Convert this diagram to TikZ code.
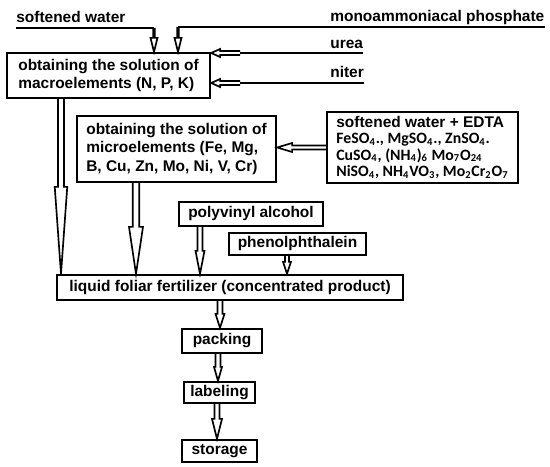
\documentclass[tikz,border=0pt]{standalone}
\usepackage{fontspec}
\setmainfont{Liberation Sans}
\newfontfamily\calfont{Carlito}
\usepackage{tikz}
\usetikzlibrary{calc}
\tikzset{
  box/.style={draw,line width=1.3pt,inner sep=0pt,align=center,
    font=\bfseries\fontsize{8.8}{10.8}\selectfont},
  box-chem/.style={box,align=left,font=\calfont\bfseries\fontsize{9}{9.2}\selectfont},
  lbl/.style={inner sep=0pt,anchor=base west,
    font=\bfseries\fontsize{8.8}{10.8}\selectfont},
  feed/.style={line width=1.3pt},
  % hollow arrows: double shaft + open head
  hollow/.style={line width=0.95pt,line join=miter},
}
% #1 from, #2 tip, #3 head length, #4 shaft half width, #5 head half width (mm)
\newcommand{\hollowdn}[5]{%
  \draw[hollow] let \p1=(#1), \p2=(#2) in
    (\x1-#4mm,\y1) -- (\x1-#4mm,\y2+#3mm) -- (\x1-#5mm,\y2+#3mm) -- (\x1,\y2)
    -- (\x1+#5mm,\y2+#3mm) -- (\x1+#4mm,\y2+#3mm) -- (\x1+#4mm,\y1);
}
\newcommand{\hollowlt}[5]{%
  \draw[hollow] let \p1=(#1), \p2=(#2) in
    (\x1,\y1+#4mm) -- (\x2+#3mm,\y1+#4mm) -- (\x2+#3mm,\y1+#5mm) -- (\x2,\y1)
    -- (\x2+#3mm,\y1-#5mm) -- (\x2+#3mm,\y1-#4mm) -- (\x1,\y1-#4mm);
}

\begin{document}
\begin{tikzpicture}[x=0.2mm,y=-0.2mm]
  \useasboundingbox (0,0) rectangle (550,467);

  \node[lbl] (sw) at (16,23) {softened water};
  \node[lbl] (ma) at (330,22) {monoammoniacal phosphate};
  \node[lbl] (ur) at (330,49) {urea};
  \node[lbl] (ni) at (330,78) {niter};

  \node[box,align=left,minimum width=40.6mm,minimum height=9mm] (macro) at (108.5,75.5)
    {obtaining the solution of\\macroelements (N, P, K)};
  \node[box,align=left,minimum width=39.8mm,minimum height=13.2mm] (micro) at (176.5,149)
    {obtaining the solution of\\microelements (Fe, Mg,\\B, Cu, Zn, Mo, Ni, V, Cr)};
  \node[box-chem,minimum width=38.2mm,minimum height=14.2mm] (edta) at (422.5,147.5)
    {{\rmfamily\fontsize{8.8}{9.2}\selectfont softened water + EDTA}\\
     FeSO\textsubscript{4}., MgSO\textsubscript{4}., ZnSO\textsubscript{4}.\\
     CuSO\textsubscript{4}, (NH\textsubscript{4})\textsubscript{6} Mo\textsubscript{7}O\textsubscript{24}\\
     NiSO\textsubscript{4}, NH\textsubscript{4}VO\textsubscript{3}, Mo\textsubscript{2}Cr\textsubscript{2}O\textsubscript{7}};
  \node[box,minimum width=28.8mm,minimum height=4.8mm] (pva) at (251,214) {polyvinyl alcohol};
  \node[box,minimum width=27.4mm,minimum height=4.4mm] (phen) at (297.5,244) {phenolphthalein};
  \node[box,minimum width=69.2mm,minimum height=5mm] (fert) at (230,287.5)
    {liquid foliar fertilizer (concentrated product)};
  \node[box,minimum width=16mm,minimum height=4.8mm] (pack) at (222,341) {packing};
  \node[box,minimum width=14.2mm,minimum height=4.2mm] (lab) at (219.5,392.5) {labeling};
  \node[box,minimum width=15mm,minimum height=4.4mm] (stor) at (219.5,451) {storage};

  \coordinate (swE) at (154,28);
  \coordinate (maE) at (178,27);
  \coordinate (urE) at (240,53);
  \coordinate (niE) at (240,83);
  \coordinate (xMa) at (61,0);
  \coordinate (xMi) at (136,0);
  \coordinate (xPv) at (200,0);
  \coordinate (xPh) at (287,0);
  \coordinate (xFe) at (220,0);
  \coordinate (xPa) at (218,0);
  \coordinate (xLa) at (217,0);

  \draw[feed] (sw.base west |- swE) -- (swE);
  \draw[feed] (ma.base east |- maE) -- (maE);
  \draw[feed] (ur.base east |- urE) -- (urE);
  \draw[feed] (ni.base east |- niE) -- (niE);

  \hollowdn{swE}{macro.north -| swE}{2.8}{0.16}{0.7}
  \hollowdn{maE}{macro.north -| maE}{2.8}{0.16}{0.7}
  \hollowlt{urE}{macro.east |- urE}{1.8}{0.4}{0.8}
  \hollowlt{niE}{macro.east |- niE}{1.8}{0.4}{0.8}
  \hollowlt{edta.west}{micro.east |- edta.west}{3}{0.4}{0.9}

  \hollowdn{macro.south -| xMa}{fert.north -| xMa}{17.4}{0.6}{1.25}
  \hollowdn{micro.south -| xMi}{fert.north -| xMi}{9.4}{0.65}{1.4}
  \hollowdn{pva.south -| xPv}{fert.north -| xPv}{4.6}{0.5}{0.9}
  \hollowdn{phen.south -| xPh}{fert.north -| xPh}{2.4}{0.4}{0.8}
  \hollowdn{fert.south -| xFe}{pack.north -| xFe}{2.8}{0.5}{0.9}
  \hollowdn{pack.south -| xPa}{lab.north -| xPa}{2.8}{0.5}{0.8}
  \hollowdn{lab.south -| xLa}{stor.north -| xLa}{4}{0.5}{1}
\end{tikzpicture}
\end{document}
